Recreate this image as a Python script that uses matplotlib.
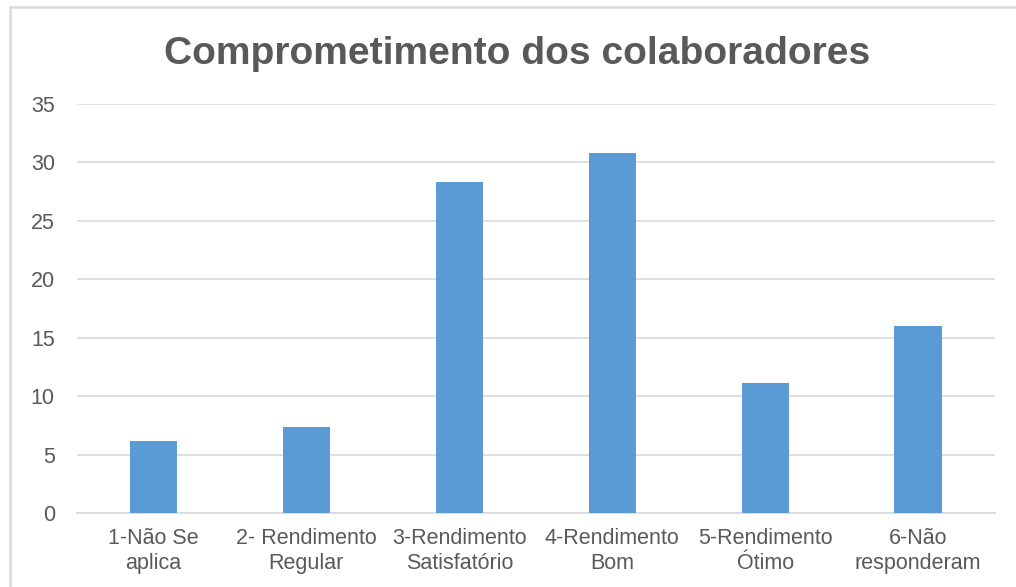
import matplotlib
matplotlib.use("Agg")
import matplotlib.pyplot as plt
from matplotlib.patches import Rectangle

categories = ["1-Não Se\naplica", "2- Rendimento\nRegular", "3-Rendimento\nSatisfatório",
              "4-Rendimento\nBom", "5-Rendimento\nÓtimo", "6-Não\nresponderam"]
values = [6.2, 7.4, 28.3, 30.8, 11.1, 16.0]
yticks = [0, 5, 10, 15, 20, 25, 30, 35]
title = "Comprometimento dos colaboradores"

plt.rcParams['font.family'] = ['Liberation Sans', 'DejaVu Sans']
text_gray = "#595959"
grid_gray = "#D9D9D9"
bar_color = "#5B9BD5"

fig = plt.figure(figsize=(10.16, 5.87), dpi=100)
fig.patch.set_facecolor("white")
fig.patches.append(Rectangle((0.0098, -0.05), 1.2, 1.038, transform=fig.transFigure,
                             fill=False, edgecolor=grid_gray, linewidth=1.8))

ax = fig.add_axes([0.0758, 0.126, 0.9032, 0.697])
x = list(range(len(categories)))
ax.bar(x, values, width=0.31, color=bar_color, zorder=3)
ax.set_xlim(-0.5, len(categories) - 0.5)
ax.set_ylim(0, 35)
ax.set_yticks(yticks)
ax.set_yticklabels([str(t) for t in yticks])
ax.set_xticks(x)
ax.set_xticklabels(categories, linespacing=1.25)
ax.tick_params(axis='y', length=0, pad=16, labelsize=15.5, labelcolor=text_gray)
ax.tick_params(axis='x', length=0, pad=11, labelsize=15.5, labelcolor=text_gray)
ax.grid(axis='y', color=grid_gray, linewidth=1.2, zorder=0)
for s in ['top', 'right', 'left']:
    ax.spines[s].set_visible(False)
ax.spines['bottom'].set_color(grid_gray)
ax.spines['bottom'].set_linewidth(1.2)
ax.set_facecolor("none")

fig.text(0.509, 0.908, title, ha='center', va='center', fontsize=28.1,
         fontweight='bold', color=text_gray)

fig.savefig("out.png", dpi=100)
